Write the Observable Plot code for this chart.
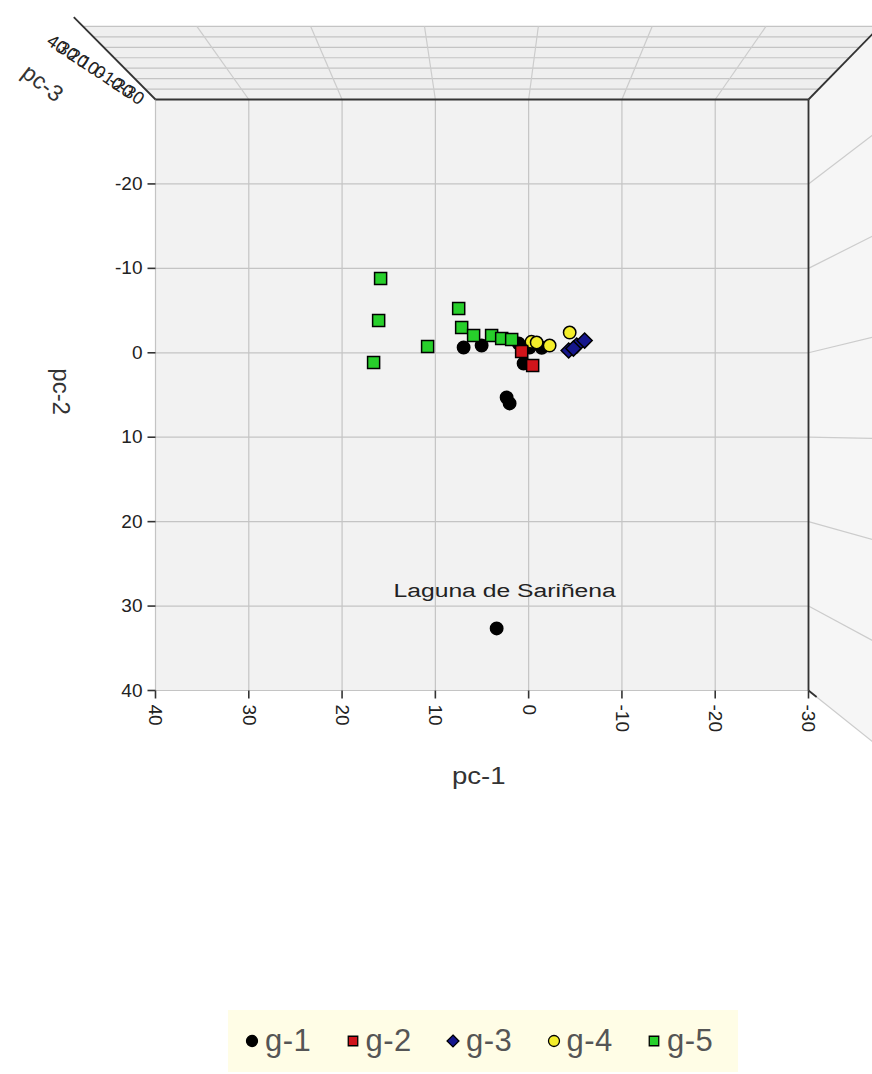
<!DOCTYPE html>
<html><head><meta charset="utf-8">
<script src="https://cdn.jsdelivr.net/npm/d3@7"></script>
<script src="https://cdn.jsdelivr.net/npm/@observablehq/plot@0.6"></script>
<style>
html,body{margin:0;padding:0;background:#fff;}
body{font-family:"Liberation Sans",Arial,sans-serif;width:872px;}
#legend{position:relative;margin-left:228px;width:510px;height:62px;background:#fffde6;}
#legend .item{position:absolute;top:0;height:62px;display:flex;align-items:center;}
#legend .lbl{font-size:31px;color:#555;margin-left:5px;letter-spacing:0.5px;}
</style></head>
<body>
<div id="chart"></div>
<div id="legend"></div>
<script>
// ---------- data ----------
const groups = ["g-1", "g-2", "g-3", "g-4", "g-5"];
const groupColors = ["#000000", "#d0141b", "#15168c", "#f4ee2a", "#27cf2b"];
const groupSymbols = ["circle", "square", "diamond2", "circle", "square"];

const g1_pc1 = [6.97, 5.04, 1.07, -0.10, -1.40, 0.54, 2.36, 2.04, 3.43];
const g1_pc2 = [-0.63, -0.86, -1.10, -0.63, -0.60, 1.27, 5.30, 6.00, 32.65];
const g2_pc1 = [0.75, -0.43];
const g2_pc2 = [-0.15, 1.50];
const g3_pc1 = [-4.29, -5.15, -6.00, -4.80];
const g3_pc2 = [-0.27, -0.86, -1.45, -0.50];
const g4_pc1 = [-0.30, -0.86, -2.25, -4.40];
const g4_pc2 = [-1.30, -1.22, -0.86, -2.40];
const g5_pc1 = [15.87, 16.08, 16.62, 10.83, 7.50, 7.18, 5.90, 3.97, 2.89, 1.82];
const g5_pc2 = [-8.80, -3.82, 1.15, -0.75, -5.25, -3.00, -2.05, -2.05, -1.70, -1.57];

const pc1Ticks = [40, 30, 20, 10, 0, -10, -20, -30];
const pc2Ticks = [-20, -10, 0, 10, 20, 30, 40];
const pc3Ticks = [40, 30, 20, 10, 0, -10, -20, -30];
const pc1Domain = [40, -30];
const pc2Domain = [-30, 40];
const pc3Domain = [-30, 40];

const annotationText = "Laguna de Sariñena";
const annotationGroup = 0, annotationIndex = 8;

// ---------- build ----------
const groupData = [[g1_pc1, g1_pc2], [g2_pc1, g2_pc2], [g3_pc1, g3_pc2], [g4_pc1, g4_pc2], [g5_pc1, g5_pc2]];
const points = [];
groupData.forEach(([a, b], gi) => a.forEach((v, i) => points.push({group: groups[gi], pc1: v, pc2: b[i]})));
const drawOrder = ["g-1", "g-3", "g-4", "g-2", "g-5"];

// perspective of the 3-D box (back face larger, scaled around a centre point)
const center = [4.72, 9.32];
const depthGrowth = 0.22;
function proj(p1, p2, p3) {
  const s = 1 + depthGrowth * (p3 - pc3Domain[0]) / (pc3Domain[1] - pc3Domain[0]);
  return {x: center[0] + s * (p1 - center[0]), y: center[1] + s * (p2 - center[1])};
}
function seg(a, b) { return {x1: a.x, y1: a.y, x2: b.x, y2: b.y}; }

const [xL, xR] = pc1Domain, [yT, yB] = pc2Domain, [zF, zB] = pc3Domain;
const xPx = 9.3286, yPx = 8.443; // px per unit (for offsets / tick lengths)

const ceiling = [proj(xL, yT, zF), proj(xR, yT, zF), proj(xR, yT, zB), proj(xL, yT, zB)];
const wall = [proj(xR, yT, zF), proj(xR, yT, zB), proj(xR, yB, zB), proj(xR, yB, zF)];

const ceilDepthLines = pc3Ticks.filter(z => z > zF).map(z => seg(proj(xL, yT, z), proj(xR, yT, z)));
const ceilPc1Lines = pc1Ticks.filter(v => v !== xL && v !== xR).map(v => seg(proj(v, yT, zF), proj(v, yT, zB)));
const wallLines = pc2Ticks.map(v => seg(proj(xR, v, zF), proj(xR, v, zB)));
const darkLines = [
  seg(proj(xL, yT, zF), proj(xR, yT, zF)),
  seg(proj(xR, yT, zF), proj(xR, yB, zF)),
  seg(proj(xL, yT, zF), proj(xL, yT, zB + 9)),
  seg(proj(xR, yT, zF), proj(xR, yT, zB + 10)),
  seg(proj(xR, yB, zF), proj(xR, yB, zF + 8))
];
// pc-3 labels sit left of / below the left ceiling edge
const pc3LabelPts = pc3Ticks.map((z, i) => {
  const t = i / (pc3Ticks.length - 1);
  const p = proj(xL, yT, z);
  const ox = -26 + 2 * t, oy = 18 - 24 * t;
  return {z, x: p.x - ox / xPx, y: p.y + oy / yPx};
});

const font = "Liberation Sans";

const marks = [
  Plot.line(ceiling, {x: "x", y: "y", fill: "#efefef", stroke: "none"}),
  Plot.line(wall, {x: "x", y: "y", fill: "#f6f6f6", stroke: "none"}),
  Plot.rect([0], {x1: () => xL, x2: () => xR, y1: () => yT, y2: () => yB, fill: "#f2f2f2"}),
  Plot.link(ceilDepthLines, {x1: "x1", y1: "y1", x2: "x2", y2: "y2", stroke: "#c4c4c4", strokeWidth: 1.2}),
  Plot.link(ceilPc1Lines, {x1: "x1", y1: "y1", x2: "x2", y2: "y2", stroke: "#cccccc", strokeWidth: 1.2}),
  Plot.link(wallLines, {x1: "x1", y1: "y1", x2: "x2", y2: "y2", stroke: "#cccccc", strokeWidth: 1.2}),
  Plot.ruleX(pc1Ticks, {x: d => d, y1: () => yT, y2: () => yB, stroke: "#c4c4c4", strokeWidth: 1.2}),
  Plot.ruleY(pc2Ticks, {y: d => d, x1: () => xL, x2: () => xR, stroke: "#c4c4c4", strokeWidth: 1.2}),
  Plot.link(darkLines, {x1: "x1", y1: "y1", x2: "x2", y2: "y2", stroke: "#333", strokeWidth: 1.8}),
  // tick marks
  Plot.link(pc1Ticks, {x1: d => d, x2: d => d, y1: () => yB, y2: () => yB + 8 / yPx, stroke: "#333", strokeWidth: 1.6}),
  Plot.link(pc2Ticks, {y1: d => d, y2: d => d, x1: () => xL, x2: () => xL + 8 / xPx, stroke: "#333", strokeWidth: 1.6}),
  // tick labels
  Plot.text(pc1Ticks, {x: d => d, y: () => yB, text: d => String(d), rotate: 90, textAnchor: "start", dy: 14, fontSize: 19, fill: "#222"}),
  Plot.text(pc2Ticks, {x: () => xL, y: d => d, text: d => String(d), textAnchor: "end", dx: -13, fontSize: 19, fill: "#222"}),
  Plot.text(pc3LabelPts, {x: "x", y: "y", text: d => String(d.z), rotate: 35, textAnchor: "middle", fontSize: 18, fill: "#222"}),
  // axis titles
  Plot.text(["pc-1"], {x: () => (xL + xR) / 2 + 0.35, y: () => yB, text: d => d, dy: 86, fontSize: 23, fill: "#333", className: "wide"}),
  Plot.text(["pc-2"], {x: () => xL, y: () => (yT + yB) / 2 - 0.4, text: d => d, dx: -95, rotate: 90, fontSize: 24, fill: "#333"}),
  Plot.text(["pc-3"], {x: () => xL, y: () => yT, text: d => d, dx: -113, dy: -16, rotate: 38, fontSize: 23, fill: "#333", letterSpacing: "3px"}),
  // points
  ...drawOrder.map(g => {
    const gi = groups.indexOf(g);
    return Plot.dot(points.filter(p => p.group === g), {
      x: "pc1", y: "pc2", symbol: () => groupSymbols[gi], fill: groupColors[gi],
      stroke: "#000", strokeWidth: 1.5, r: groupSymbols[gi] === "circle" ? 6.2 : 6.8
    });
  }),
  Plot.text([0], {x: () => groupData[annotationGroup][0][annotationIndex], y: () => groupData[annotationGroup][1][annotationIndex],
    text: () => annotationText, dx: 8, dy: -38, fontSize: 19, fill: "#222", className: "anno"})
];

const chart = Plot.plot({
  width: 872, height: 1010,
  margin: 0,
  style: {background: "#fff", fontFamily: font, overflow: "hidden"},
  x: {domain: pc1Domain, range: [155, 808], axis: null},
  y: {domain: pc2Domain, range: [99, 690], axis: null},
  symbol: {type: "identity"},
  marks
});
document.getElementById("chart").appendChild(chart);

// widen some glyphs horizontally as in the reference
function widen(sel, k) {
  d3.select(chart).selectAll(sel).each(function() {
    const t = this.getAttribute("transform") || "";
    if (!this.getAttribute("x")) this.setAttribute("transform", t + ` scale(${k},1)`);
  });
}
widen(".anno text", 1.3);
widen(".wide text", 1.2);

// legend
const legend = d3.select("#legend");
groups.forEach((g, i) => {
  const item = legend.append("div").attr("class", "item").style("left", (16 + i * 100.5) + "px");
  const svg = item.append("svg").attr("width", 16).attr("height", 16).attr("viewBox", "-8 -8 16 16");
  const typ = {circle: d3.symbolCircle, square: d3.symbolSquare, diamond2: d3.symbolDiamond2}[groupSymbols[i]];
  const size = groupSymbols[i] === "circle" ? 95 : 90;
  svg.append("path").attr("d", d3.symbol(typ, size)()).attr("fill", groupColors[i]).attr("stroke", "#000").attr("stroke-width", 1.3);
  item.append("span").attr("class", "lbl").text(g);
});
</script>
</body></html>
